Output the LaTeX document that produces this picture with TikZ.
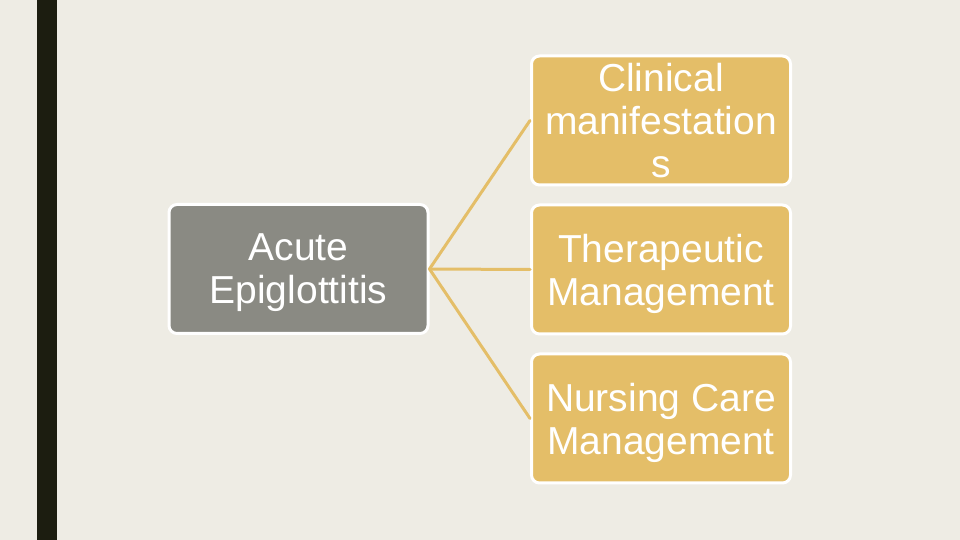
\documentclass[tikz,border=0pt]{standalone}
\usepackage{fontspec}
\setmainfont{Liberation Sans}
\definecolor{paper}{RGB}{238,236,228}
\definecolor{bar}{RGB}{28,29,16}
\definecolor{stone}{RGB}{138,138,131}
\definecolor{gold}{RGB}{228,190,104}
\begin{document}
\begin{tikzpicture}[x=1pt,y=1pt,line cap=round,line join=round]
\tikzset{
  box/.style={draw=white,line width=3pt,rounded corners=8pt,inner sep=0pt,
    minimum width=259pt,minimum height=129pt,align=center,text=white,
    font=\fontsize{39}{43}\selectfont,text depth=0pt},
  topic/.style={box,fill=stone},
  branch/.style={box,fill=gold},
  link/.style={draw=gold,line width=3pt}
}
\useasboundingbox[fill=paper] (0,0) rectangle (960,540);
\fill[bar] (37,0) rectangle (57,540);
\node[topic] (epi) at (298.5,271) {Acute\\Epiglottitis};
\node[branch] (clin) at (661,419.5) {Clinical\\manifestation\\s};
\node[branch] (ther) at (661,270.5) {Therapeutic\\Management};
\node[branch] (nurs) at (661,121.5) {Nursing Care\\Management};
\draw[link] (epi.east) -- (clin.west);
\draw[link] (epi.east) -- (ther.west);
\draw[link] (epi.east) -- (nurs.west);
\end{tikzpicture}
\end{document}
